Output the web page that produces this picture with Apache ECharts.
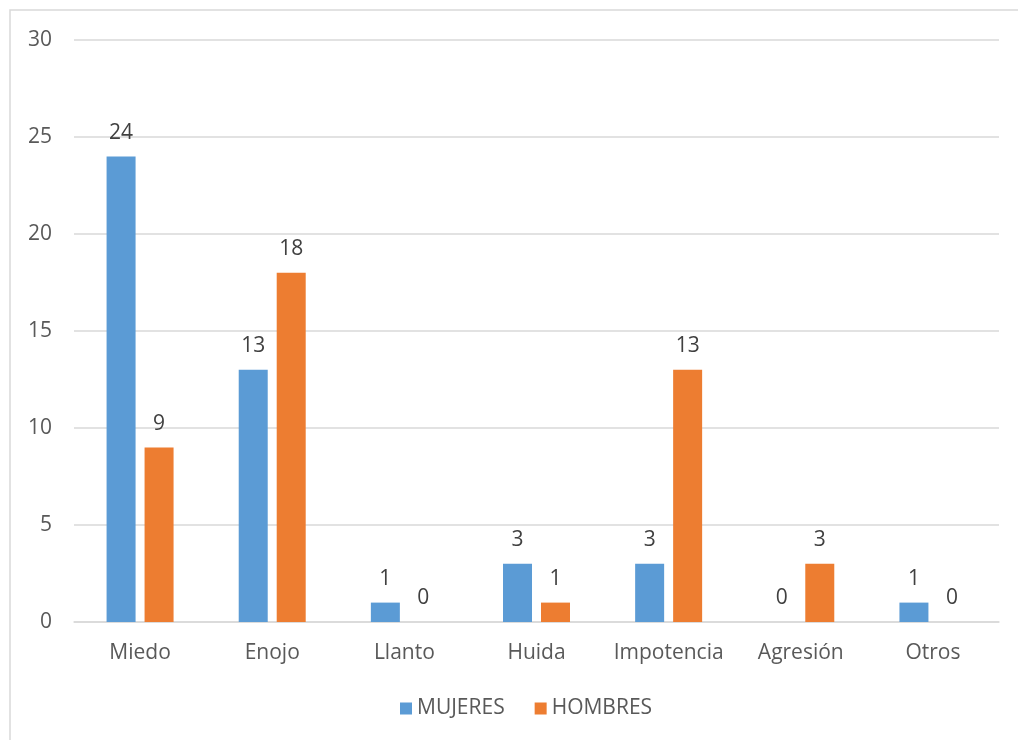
<!DOCTYPE html>
<html><head><meta charset="utf-8">
<script src="https://cdn.jsdelivr.net/npm/echarts@6/dist/echarts.min.js"></script>
<style>html,body{margin:0;padding:0;background:#fff}#c{width:1018px;height:740px}</style>
</head><body><div id="c"></div>
<script>
const categories = ['Miedo','Enojo','Llanto','Huida','Impotencia','Agresión','Otros'];
const mujeres = [24,13,1,3,3,0,1];
const hombres = [9,18,0,1,13,3,0];
const seriesNames = ['MUJERES','HOMBRES'];
const font = 'Open Sans';
const chart = echarts.init(document.getElementById('c'));
const lbl = {show:true, position:'top', distance:13, color:'#404040', fontSize:21, fontFamily:font};
chart.setOption({
  animation:false,
  graphic:[{type:'rect', shape:{x:10,y:10,width:1030,height:760}, style:{fill:'none', stroke:'#d9d9d9', lineWidth:1.5}}],
  grid:{left:74, right:19, top:40, bottom:118},
  legend:{bottom:16, left:395, itemWidth:12, itemHeight:12, itemGap:30, icon:'rect',
    textStyle:{color:'#595959', fontSize:21, fontFamily:font}, data:seriesNames},
  xAxis:{type:'category', data:categories,
    axisLine:{lineStyle:{color:'#d9d9d9', width:1.5}}, axisTick:{show:false},
    axisLabel:{color:'#595959', fontSize:21, fontFamily:font, margin:21, interval:0}},
  yAxis:{type:'value', min:0, max:30, interval:5,
    axisLine:{show:false}, axisTick:{show:false},
    splitLine:{lineStyle:{color:'#d9d9d9', width:1.5}},
    axisLabel:{color:'#595959', fontSize:21, fontFamily:font, margin:22}},
  series:[
    {name:seriesNames[0], type:'bar', data:mujeres, barWidth:29, barGap:'31%', itemStyle:{color:'#5b9bd5'}, label:lbl},
    {name:seriesNames[1], type:'bar', data:hombres, barWidth:29, itemStyle:{color:'#ed7d31'}, label:lbl}
  ]
});
</script></body></html>
